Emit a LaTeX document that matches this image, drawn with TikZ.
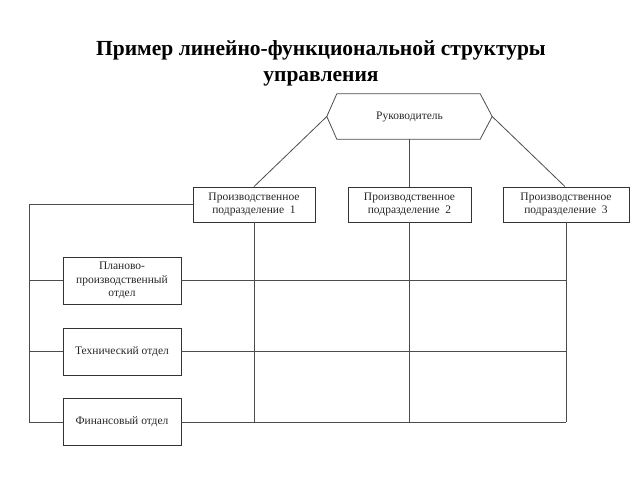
\documentclass[tikz,border=0pt]{standalone}
\usepackage{fontspec}
\setmainfont{Liberation Serif}
\usetikzlibrary{positioning}

\begin{document}
\begin{tikzpicture}[x=1pt, y=-1pt,
	unit/.style={draw=black!80, line width=0.8pt, fill=white, align=center, inner sep=0pt, font=\fontsize{11.5}{13.5}\selectfont, text=black!85},
	link/.style={draw=black!70, line width=0.8pt}]
	\useasboundingbox (0,0) rectangle (640,480);
	
	\node[align=center, font=\fontsize{21.5}{26}\selectfont\bfseries] (title) at (321,63){Пример линейно-функциональной структуры\\управления};
	
	% head
	\node[minimum width=165pt, minimum height=45pt, inner sep=0pt, font=\fontsize{11.5}{13.5}\selectfont, text=black!85] (boss) at (409.5,116.5){Руководитель};
	\draw[link] ([xshift=10pt]boss.north west) -- ([xshift=-12pt]boss.north east) -- (boss.east) -- ([xshift=-12pt]boss.south east) -- ([xshift=10pt]boss.south west) -- (boss.west) -- cycle;
	
	% production units
	\node[unit, minimum width=122pt, minimum height=35pt] (p1) at (254,204.5){Производственное\\подразделение \ 1};
	\node[unit, minimum width=123pt, minimum height=35pt] (p2) at (409.5,204.5){Производственное\\подразделение \ 2};
	\node[unit, minimum width=126pt, minimum height=35pt] (p3) at (566,204.5){Производственное\\подразделение \ 3};
	
	% functional departments
	\node[unit, minimum width=118pt, minimum height=47pt] (plan) at (122,280.5){Планово-\\производственный\\отдел};
	\node[unit, minimum width=118pt, minimum height=47pt] (tech) at (122,351.5){Технический отдел};
	\node[unit, minimum width=118pt, minimum height=47pt] (fin) at (122,422){Финансовый отдел};
	
	\coordinate (bus) at (29,204.5);
	
	\draw[link] (boss.west) -- (p1.north);
	\draw[link] (boss.south) -- (p2.north);
	\draw[link] (boss.east) -- ([xshift=-1pt]p3.north);
	
	\draw[link] (p1.west) -- (bus) -- (fin.west -| bus) -- (fin.west);
	\draw[link] (plan.west -| bus) -- (plan.west);
	\draw[link] (tech.west -| bus) -- (tech.west);
	
	\draw[link] (plan.east) -- (plan.east -| p3.south);
	\draw[link] (tech.east) -- (tech.east -| p3.south);
	\draw[link] (fin.east) -- (fin.east -| p3.south);
	
	\draw[link] (p1.south) -- (fin.east -| p1.south);
	\draw[link] (p2.south) -- (fin.east -| p2.south);
	\draw[link] (p3.south) -- (fin.east -| p3.south);
\end{tikzpicture}
\end{document}
